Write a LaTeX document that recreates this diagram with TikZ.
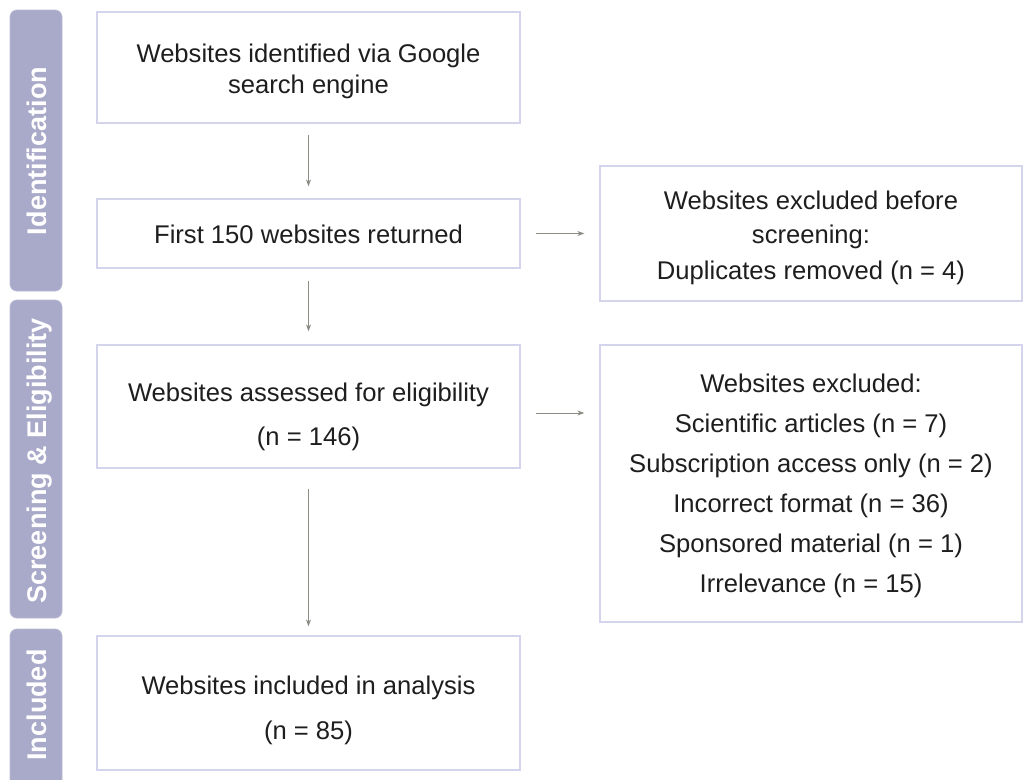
\documentclass[tikz,border=0pt]{standalone}
\usepackage{fontspec}
\setmainfont{Liberation Sans}
\usetikzlibrary{arrows.meta,calc}
\definecolor{barfill}{HTML}{A9A9C9}
\definecolor{boxline}{HTML}{D4D4EC}
\definecolor{arrcol}{HTML}{8C8C84}
\definecolor{txt}{HTML}{1E1E1E}
\tikzset{
  bar/.style={fill=barfill, draw=barfill!80!white, line width=0.8pt, rounded corners=7pt},
  barlabel/.style={text=white, font=\fontsize{27}{32}\selectfont\bfseries, rotate=90, anchor=base, inner sep=0pt},
  box/.style={draw=boxline, line width=1.3pt, fill=white, inner sep=0pt},
  boxtext/.style={align=center, text=txt, font=\fontsize{25.6}{31}\selectfont, inner sep=0pt},
  arr/.style={draw=arrcol, line width=0.9pt, -{Stealth[length=7pt,width=5pt]}}
}
\begin{document}
\begin{tikzpicture}[x=1pt,y=-1pt]
\useasboundingbox (0,0) rectangle (1024,779);
% side bars
\draw[bar] (10,10) rectangle (62,291);
\draw[bar] (10,300) rectangle (62,618);
\draw[bar] (10,629) rectangle (62,800);
\node[barlabel] (lid) at (46.5,151) {Identification};
\node[barlabel] (lsc) at (46.5,461) {Screening \& Eligibility};
\node[barlabel] (lin) at (46.5,705) {Included};
% boxes
\node[box, minimum width=423pt, minimum height=111pt] (b1) at (308.5,67.5) {};
\node[boxtext] (t1) at (308.5,71) {Websites identified via Google\\search engine};
\node[box, minimum width=423pt, minimum height=69pt] (b2) at (308.5,233.5) {};
\node[boxtext] (t2) at (308.5,234.5) {First 150 websites returned};
\node[box, minimum width=422pt, minimum height=135pt] (b3) at (811,233.5) {};
\node[boxtext] (t3) at (811,237.5) {Websites excluded before\\[3pt] screening:\\[5pt] Duplicates removed (n = 4)};
\node[box, minimum width=423pt, minimum height=123pt] (b4) at (308.5,406.5) {};
\node[boxtext] (t4) at (308.5,416.5) {Websites assessed for eligibility\\[13pt] (n = 146)};
\node[box, minimum width=422pt, minimum height=277pt] (b5) at (811,483.5) {};
\node[boxtext] (t5) at (811,486) {Websites excluded:\\[9pt] Scientific articles (n = 7)\\[9pt] Subscription access only (n = 2)\\[9pt]
   Incorrect format (n = 36)\\[9pt] Sponsored material (n = 1)\\[9pt] Irrelevance (n = 15)};
\node[box, minimum width=423pt, minimum height=134pt] (b6) at (308.5,703) {};
\node[boxtext] (t6) at (308.5,710.5) {Websites included in analysis\\[14pt] (n = 85)};
% arrows
\draw[arr, shorten <=11pt, shorten >=12pt] (b1.south) -- (b2.north);
\draw[arr, shorten <=12pt, shorten >=13pt] (b2.south) -- (b4.north);
\draw[arr, shorten <=20pt, shorten >=9pt] (b4.south) -- (b6.north);
\draw[arr, shorten <=15pt, shorten >=15pt] (b2.east) -- (b3.west);
\draw[arr, shorten <=15pt, shorten >=15pt] ([yshift=-6.5pt]b4.east) -- ([yshift=70.5pt]b5.west);
\end{tikzpicture}
\end{document}
